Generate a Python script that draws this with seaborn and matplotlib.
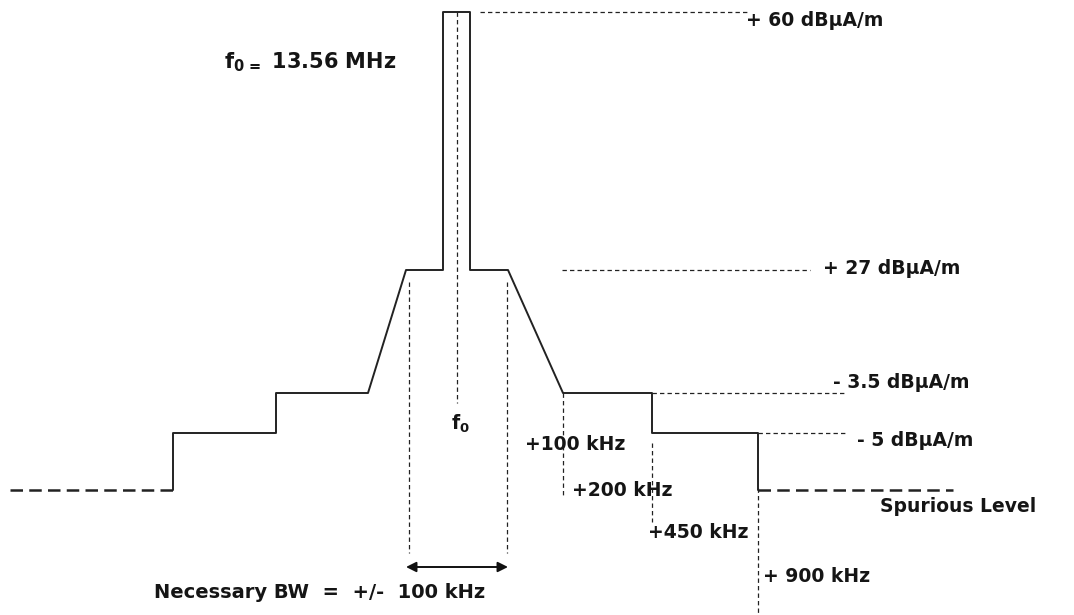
import matplotlib
matplotlib.use("Agg")
import matplotlib.pyplot as plt
import seaborn as sns
import pandas as pd

sns.set_theme(style="white")
plt.rcParams['font.family'] = ['DejaVu Sans']
plt.rcParams['mathtext.default'] = 'bf'

# ---- schematic data (x: schematic frequency position, y: schematic level height) ----
mask_x = [173, 173, 276, 276, 368, 406, 443, 443, 470, 470, 508, 563, 652, 652, 758, 758]
mask_y = [125, 182, 182, 222, 222, 345, 345, 603, 603, 345, 345, 222, 222, 182, 182, 125]

level_labels = ["+ 60 dBµA/m", "+ 27 dBµA/m", "- 3.5 dBµA/m", "- 5 dBµA/m"]
level_y = [603, 345, 222, 182]
level_x_start = [480, 562, 652, 758]
level_x_end = [747, 810, 847, 847]

spur_label = "Spurious Level"
spur_y = 125
spur_left = [10, 173]
spur_right = [758, 953]

freq_labels = ["+100 kHz", "+200 kHz", "+450 kHz", "+ 900 kHz"]
freq_lines_x = [563, 652, 758]
freq_lines_top = [222, 172, 127]
freq_lines_bottom = [118, 93, 0]

bw_x = [409, 507]
bw_top = 333
bw_bottom = 62
center_x = 457
center_top = 603
center_bottom = 212

title_text = "f$_{0\\,=}$ 13.56 MHz"
bw_text = "Necessary BW  =  +/-  100 kHz"

fig = plt.figure(figsize=(10.74, 6.15), dpi=100)
ax = fig.add_axes([0, 0, 1, 1])
ax.set_xlim(0, 1074)
ax.set_ylim(0, 615)
ax.axis("off")

thin_dash = (0, (3.5, 2.5))
thick_dash = (0, (5, 2.5))

# mask
df = pd.DataFrame({"x": mask_x, "y": mask_y})
sns.lineplot(data=df, x="x", y="y", sort=False, estimator=None, color="#222222", lw=1.4, ax=ax)

# level reference dashed lines
for xs, xe, y in zip(level_x_start, level_x_end, level_y):
    sns.lineplot(x=[xs, xe], y=[y, y], sort=False, estimator=None, color="#222222",
                 lw=0.9, linestyle=thin_dash, ax=ax)

# spurious dashed lines
for xs in (spur_left, spur_right):
    sns.lineplot(x=xs, y=[spur_y, spur_y], sort=False, estimator=None, color="#222222",
                 lw=1.8, linestyle=thick_dash, ax=ax)

# vertical dashed lines
for x, t, b in zip(freq_lines_x, freq_lines_top, freq_lines_bottom):
    sns.lineplot(x=[x, x], y=[t, b], sort=False, estimator=None, color="#222222",
                 lw=0.9, linestyle=thin_dash, ax=ax, orient="y")
for x in bw_x:
    sns.lineplot(x=[x, x], y=[bw_top, bw_bottom], sort=False, estimator=None, color="#222222",
                 lw=0.9, linestyle=thin_dash, ax=ax, orient="y")
sns.lineplot(x=[center_x, center_x], y=[center_top, center_bottom], sort=False, estimator=None,
             color="#222222", lw=0.9, linestyle=thin_dash, ax=ax, orient="y")

# bandwidth arrow
ax.annotate("", xy=(bw_x[0] - 3, 48), xytext=(bw_x[1] + 1, 48),
            arrowprops=dict(arrowstyle="<|-|>", color="#111111", lw=1.4,
                            mutation_scale=15, shrinkA=0, shrinkB=0))

tk = dict(fontsize=13.5, fontweight="bold", color="#151515", va="center", ha="left")

ax.text(224, 553, title_text, fontsize=15, fontweight="bold", color="#151515", va="center", ha="left")
label_pos = [(746, 595), (823, 347), (833, 232), (857, 174)]
for lab, (x, y) in zip(level_labels, label_pos):
    ax.text(x, y, lab, **tk)
ax.text(880, 108, spur_label, **tk)
freq_pos = [(525, 171), (572, 124), (648, 82), (763, 38)]
for lab, (x, y) in zip(freq_labels, freq_pos):
    ax.text(x, y, lab, **tk)
ax.text(451, 191, "f$_0$", **tk)
ax.text(154, 22, bw_text, **dict(tk, fontsize=14))

fig.savefig("out.png", dpi=100)
